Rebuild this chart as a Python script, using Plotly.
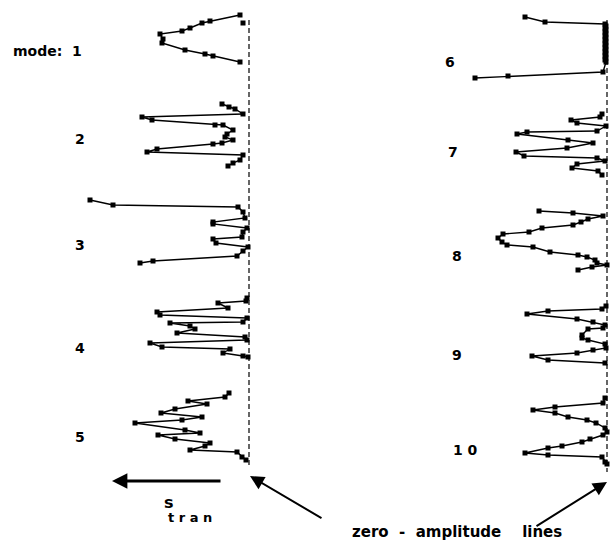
import plotly.graph_objects as go

# Transverse mode shapes: displacement (negative = toward -s_tran) against node depth.
# Zero-amplitude reference column for each group of modes.
ZERO_LEFT = 249
ZERO_RIGHT = 607

mode1_amp = [-9, -39, -47, -59, -67, -89, -86, -87, -64, -44, -36, -9]
mode1_depth = [15, 21, 23, 28, 31, 34, 39, 43, 50, 54, 56, 62]
mode1_extra_amp = [-6]
mode1_extra_depth = [23]

mode2_amp = [-27, -20, -14, -6, -107, -97, -34, -26, -16, -22, -24, -16, -27, -36, -92, -102, -6, -9, -16, -21]
mode2_depth = [104, 107, 109, 114, 117, 120, 125, 125, 130, 134, 137, 140, 143, 144, 149, 152, 155, 160, 163, 166]

mode3_amp = [-159, -136, -11, -6, -4, -36, -36, -2, -6, -7, -36, -33, -1, -6, -12, -96, -109]
mode3_depth = [200, 205, 207, 212, 218, 222, 224, 228, 232, 237, 239, 243, 247, 251, 256, 261, 263]

mode4_amp = [-2, -3, -31, -21, -92, -89, -2, -6, -79, -59, -54, -72, -4, -2, -99, -87, -19, -26, -6, -1]
mode4_depth = [298, 301, 303, 308, 312, 315, 318, 322, 323, 326, 329, 333, 337, 340, 343, 347, 349, 353, 356, 357]

mode5_amp = [-20, -24, -61, -42, -74, -88, -47, -67, -114, -64, -49, -91, -74, -39, -44, -59, -12, -7, -3]
mode5_depth = [393, 397, 401, 404, 409, 413, 417, 420, 423, 430, 433, 435, 439, 443, 446, 450, 452, 457, 460]

mode6_amp = [-82, -62, -2, -1, -2, -1, -2, -1, -2, -1, -2, -1, -2, -1, -2, -1, -2, -1, -2, -1, -2, -1, -4, -99, -132]
mode6_depth = [17, 22, 24, 26, 28, 30, 32, 34, 36, 38, 40, 42, 44, 46, 48, 50, 52, 54, 56, 58, 60, 62, 72, 76, 78]

mode7_amp = [-5, -7, -36, -30, -1, -10, -80, -90, -39, -14, -40, -91, -83, -10, -2, -30, -35, -9, -5]
mode7_depth = [114, 117, 120, 123, 126, 131, 132, 134, 140, 143, 148, 152, 156, 158, 161, 164, 168, 171, 175]

mode8_amp = [-68, -34, -4, -19, -26, -34, -65, -78, -104, -109, -105, -100, -74, -57, -29, -20, -12, -10, 0, -15, -29]
mode8_depth = [211, 213, 216, 219, 222, 225, 228, 232, 234, 238, 242, 245, 247, 252, 255, 257, 260, 263, 265, 267, 270]

mode9_amp = [-1, -5, -59, -80, -30, -14, -2, -4, -19, -25, -25, -19, -2, -1, -14, -30, -75, -59, -2]
mode9_depth = [306, 309, 311, 314, 319, 322, 325, 328, 329, 335, 338, 340, 344, 348, 350, 353, 356, 360, 363]

mode10_amp = [-2, -4, -52, -74, -52, -39, -20, -11, -2, 0, -4, -17, -25, -45, -59, -82, -59, -5, -2, 0]
mode10_depth = [398, 403, 407, 410, 413, 417, 420, 423, 428, 432, 435, 439, 442, 446, 448, 453, 455, 457, 462, 464]

mode_labels = ["mode:  1", "2", "3", "4", "5", "6", "7", "8", "9", "1 0"]
label_x = [47, 80, 80, 80, 80, 450, 453, 457, 457, 465]
label_y = [51, 139, 245, 348, 437, 62, 152, 256, 355, 450]

modes_left = [(mode1_amp, mode1_depth), (mode2_amp, mode2_depth), (mode3_amp, mode3_depth),
              (mode4_amp, mode4_depth), (mode5_amp, mode5_depth)]
modes_right = [(mode6_amp, mode6_depth), (mode7_amp, mode7_depth), (mode8_amp, mode8_depth),
               (mode9_amp, mode9_depth), (mode10_amp, mode10_depth)]

fig = go.Figure()

# dashed zero-amplitude lines
fig.add_trace(go.Scatter(x=[ZERO_LEFT, ZERO_LEFT], y=[20, 467], mode="lines",
                         line=dict(color="black", width=1.2, dash="5px,3px"), hoverinfo="skip"))
fig.add_trace(go.Scatter(x=[ZERO_RIGHT, ZERO_RIGHT], y=[20, 472], mode="lines",
                         line=dict(color="black", width=1.2, dash="5px,3px"), hoverinfo="skip"))

line_style = dict(color="black", width=1.4)
marker_style = dict(symbol="square", size=5, color="black")

for zero, group in ((ZERO_LEFT, modes_left), (ZERO_RIGHT, modes_right)):
    for amp, depth in group:
        fig.add_trace(go.Scatter(x=[zero + a for a in amp], y=depth, mode="lines+markers",
                                 line=line_style, marker=marker_style))

fig.add_trace(go.Scatter(x=[ZERO_LEFT + a for a in mode1_extra_amp], y=mode1_extra_depth,
                         mode="markers", marker=marker_style))

FAMILY = "DejaVu Sans, Arial, sans-serif"
font = dict(family=FAMILY, size=14, color="black")

for txt, xx, yy in zip(mode_labels, label_x, label_y):
    fig.add_annotation(x=xx, y=yy, text="<b>" + txt + "</b>", showarrow=False, font=font)

# direction of positive transverse displacement
fig.add_annotation(x=112, y=481, ax=222, ay=481, axref="x", ayref="y", text="",
                   showarrow=True, arrowhead=2, arrowsize=1.1, arrowwidth=2.8, arrowcolor="black")
fig.add_annotation(x=169, y=502, text="<b>s</b>", showarrow=False,
                   font=dict(family=FAMILY, size=16, color="black"))
fig.add_annotation(x=190, y=517, text="<b>t r a n</b>", showarrow=False,
                   font=dict(family=FAMILY, size=13, color="black"))

# pointers to the zero-amplitude lines
fig.add_annotation(x=250, y=476, ax=323, ay=519, axref="x", ayref="y", text="",
                   showarrow=True, arrowhead=2, arrowsize=1.4, arrowwidth=2, arrowcolor="black")
fig.add_annotation(x=607, y=482, ax=535, ay=527, axref="x", ayref="y", text="",
                   showarrow=True, arrowhead=2, arrowsize=1.4, arrowwidth=2, arrowcolor="black")
fig.add_annotation(x=457, y=532, text="<b>zero  -  amplitude    lines</b>", showarrow=False,
                   font=dict(family=FAMILY, size=15, color="black"))

fig.update_layout(
    width=613, height=543,
    margin=dict(l=0, r=0, t=0, b=0),
    paper_bgcolor="white", plot_bgcolor="white",
    showlegend=False,
    xaxis=dict(range=[0, 613], visible=False, fixedrange=True),
    yaxis=dict(range=[543, 0], visible=False, fixedrange=True),
)

fig.write_html("out.html")
